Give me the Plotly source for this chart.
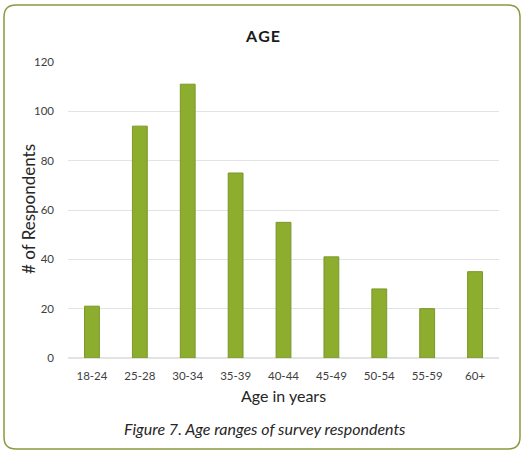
import plotly.graph_objects as go

# Survey respondent counts by age group
age_groups = ["18-24", "25-28", "30-34", "35-39", "40-44", "45-49", "50-54", "55-59", "60+"]
respondents = [21, 94, 111, 75, 55, 41, 28, 20, 35]
y_ticks = [0, 20, 40, 60, 80, 100, 120]

W, H = 523, 450
L, R, T, B = 68, 24, 62, 92
pw, ph = W - L - R, H - T - B


def px_to_paper(x, y):
    return (x - L) / pw, (H - B - y) / ph


def rounded_rect(x0, y0, x1, y1, r):
    def P(x, y):
        a, b = px_to_paper(x, y)
        return f"{a:.5f},{b:.5f}"
    path = f"M {P(x0 + r, y0)} L {P(x1 - r, y0)} Q {P(x1, y0)} {P(x1, y0 + r)} "
    path += f"L {P(x1, y1 - r)} Q {P(x1, y1)} {P(x1 - r, y1)} "
    path += f"L {P(x0 + r, y1)} Q {P(x0, y1)} {P(x0, y1 - r)} "
    path += f"L {P(x0, y0 + r)} Q {P(x0, y0)} {P(x0 + r, y0)} Z"
    return path


font_family = "Lato, 'Open Sans', sans-serif"

fig = go.Figure(
    go.Bar(
        x=age_groups,
        y=respondents,
        marker=dict(color="#8cad2e", line=dict(color="#7a982a", width=1)),
        width=0.31,
    )
)

fig.update_layout(
    width=W,
    height=H,
    margin=dict(l=L, r=R, t=T, b=B),
    paper_bgcolor="white",
    plot_bgcolor="white",
    showlegend=False,
    font=dict(family=font_family, color="#404040", size=11),
    title=dict(
        text="<b>A G E</b>".replace(" ", "&#8202;"),
        x=0.503,
        xanchor="center",
        y=1 - 36 / H,
        yanchor="middle",
        font=dict(size=16, color="#1a1a1a", family=font_family),
    ),
    xaxis=dict(
        tickfont=dict(size=11.5, color="#404040"),
        title=dict(text="Age in years", font=dict(size=16, color="#262626"), standoff=10),
        showline=False,
        showgrid=False,
        ticks="",
        ticklabelstandoff=9,
    ),
    yaxis=dict(
        range=[0, 120],
        tickvals=y_ticks,
        tickfont=dict(size=11.5, color="#404040"),
        showgrid=True,
        gridcolor="#e3e3e3",
        gridwidth=1,
        zeroline=True,
        zerolinecolor="#e3e3e3",
        ticks="",
        ticklabelstandoff=13,
    ),
)

# Vertical y-axis label
fig.add_annotation(
    text="# of Respondents",
    xref="paper",
    yref="paper",
    x=px_to_paper(28, 0)[0],
    y=px_to_paper(0, 209)[1],
    textangle=-90,
    showarrow=False,
    xanchor="center",
    yanchor="middle",
    font=dict(size=17, color="#262626", family=font_family),
)

fig.add_annotation(
    text="<i>Figure 7. Age ranges of survey respondents</i>",
    xref="paper",
    yref="paper",
    x=px_to_paper(265, 0)[0],
    y=px_to_paper(0, 428)[1],
    showarrow=False,
    xanchor="center",
    yanchor="middle",
    font=dict(size=16, color="#262626", family=font_family),
)

fig.add_shape(
    type="path",
    path=rounded_rect(4, 5, 520, 449, 12),
    xref="paper",
    yref="paper",
    line=dict(color="#8a9a3e", width=1.5),
    fillcolor="rgba(0,0,0,0)",
    layer="below",
)

fig.write_html("out.html")
